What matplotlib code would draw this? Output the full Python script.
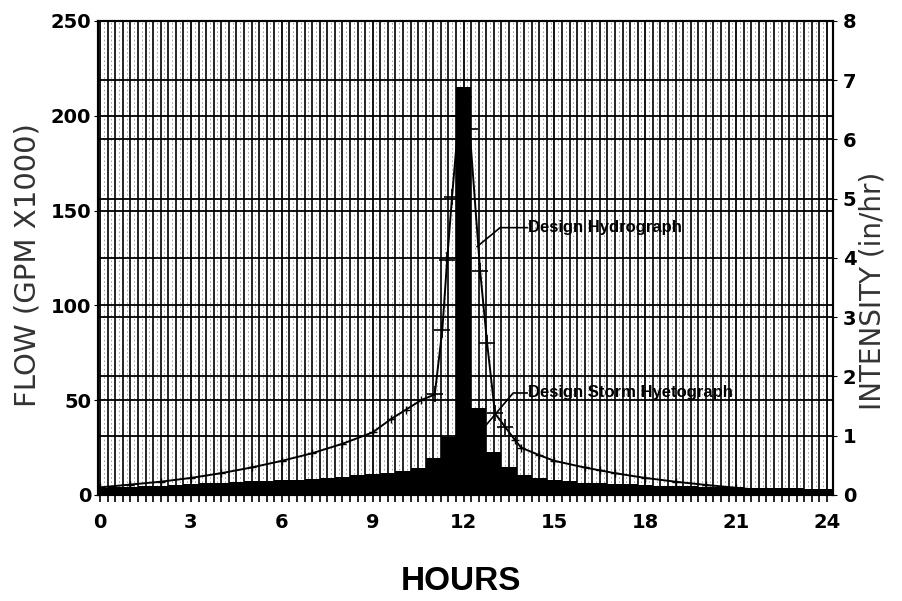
import matplotlib
matplotlib.use("Agg")
import matplotlib.pyplot as plt
import numpy as np

# Design hydrograph (flow, GPM x1000) vs hours
hydro_hours = [0, 1, 2, 3, 4, 5, 6, 7, 8, 9, 9.6, 10.1, 10.6, 11.05, 11.3,
               11.46, 11.62, 11.85, 12.0, 12.2, 12.55, 12.78, 13.04, 13.37,
               13.7, 13.9, 14.5, 15, 16, 16.5, 17, 18, 19, 20, 21, 22, 23, 24]
hydro_flow = [4, 5.5, 7, 9, 11.5, 14.5, 18, 22, 27, 33, 40, 45, 50, 53, 87,
              124, 157, 200, 210, 193, 118, 80, 43, 36,
              29, 25, 21, 18, 14.5, 13, 11.5, 9, 7, 5.3, 3.8, 2.3, 1.2, 0.3]

# Design storm hyetograph (intensity, in/hr), half-hour bars centred on these hours
storm_hours = [0, 0.5, 1, 1.5, 2, 2.5, 3, 3.5, 4, 4.5, 5, 5.5, 6, 6.5, 7, 7.5,
               8, 8.5, 9, 9.5, 10, 10.5, 11, 11.5, 12, 12.5, 13, 13.5, 14, 14.5,
               15, 15.5, 16, 16.5, 17, 17.5, 18, 18.5, 19, 19.5, 20, 20.5, 21,
               21.5, 22, 22.5, 23, 23.5, 24]
storm_intensity = [0.12, 0.13, 0.14, 0.15, 0.16, 0.17, 0.19, 0.20, 0.21, 0.22,
                   0.23, 0.24, 0.25, 0.26, 0.27, 0.29, 0.31, 0.33, 0.35, 0.37,
                   0.40, 0.45, 0.62, 0.98, 6.89, 1.47, 0.73, 0.47, 0.33, 0.28,
                   0.25, 0.23, 0.21, 0.20, 0.19, 0.18, 0.17, 0.16, 0.15, 0.15,
                   0.14, 0.13, 0.13, 0.12, 0.12, 0.11, 0.11, 0.10, 0.10]

hour_ticks = [0, 3, 6, 9, 12, 15, 18, 21, 24]
flow_ticks = [0, 50, 100, 150, 200, 250]
intensity_ticks = [0, 1, 2, 3, 4, 5, 6, 7, 8]

tick_font = dict(family="DejaVu Sans", weight="bold", size=14)

fig = plt.figure(figsize=(9.02, 6.01), dpi=100)
ax = fig.add_axes([0.1086, 0.1764, 0.8149, 0.7887])
ax2 = ax.twinx()

# hydrograph on the flow axis; big crosses near the peak, small on the tails
peak = [11.0 <= h <= 13.5 for h in hydro_hours]
ax.plot(hydro_hours, hydro_flow, color="black", lw=1.4, zorder=3)
ax.plot([h for h, p in zip(hydro_hours, peak) if p],
        [q for q, p in zip(hydro_flow, peak) if p],
        ls="none", marker="+", ms=12, mew=1.2, color="black", zorder=3)
ax.plot([h for h, p in zip(hydro_hours, peak) if not p],
        [q for q, p in zip(hydro_flow, peak) if not p],
        ls="none", marker="+", ms=6, mew=1.0, color="black", zorder=3)

ax.set_xlim(-0.07, 24.2)
ax.set_ylim(0, 250)
ax.set_xticks(hour_ticks)
ax.set_xticks(np.arange(0, 24.01, 0.25), minor=True)
ax.set_yticks(flow_ticks)
ax.grid(True, which="minor", axis="x", color="black", lw=1.2)
ax.grid(True, which="major", axis="both", color="black", lw=1.3)
# faint in-between lines seen on the scan
for xm in np.arange(0.125, 24.1, 0.25):
    ax.axvline(xm, color="0.6", lw=0.6, ls=(0, (2, 3)), zorder=0.5)
ax.set_axisbelow(True)

# hyetograph on the intensity axis
ax2.bar(storm_hours, storm_intensity, width=0.5, color="black", lw=0, zorder=2)
ax2.set_ylim(0, 8)
ax2.set_yticks(intensity_ticks)
ax2.grid(True, axis="y", color="black", lw=1.3)
ax2.set_axisbelow(True)
ax2.patch.set_visible(False)

for a in (ax, ax2):
    for s in a.spines.values():
        s.set_linewidth(1.5)

ax.tick_params(axis="x", which="both", direction="out", length=5, width=1.2,
               pad=8)
ax.tick_params(axis="y", length=3, pad=2)
ax2.tick_params(axis="y", length=3, pad=4)
for lab in ax.get_xticklabels() + ax.get_yticklabels() + ax2.get_yticklabels():
    lab.set_fontproperties(tick_font)

# call-outs
lead_hydro_x, lead_hydro_y = [12.45, 13.21, 14.1], [131, 141, 141]
lead_storm_x, lead_storm_y = [12.61, 13.64, 14.1], [34.3, 53.8, 53.8]
ax2.plot(lead_hydro_x, lead_hydro_y, color="black", lw=1.2,
         transform=ax.transData, zorder=5)
ax2.plot(lead_storm_x, lead_storm_y, color="black", lw=1.2,
         transform=ax.transData, zorder=5)
ax2.text(14.12, 141, "Design Hydrograph", transform=ax.transData,
         family="Liberation Sans", weight="bold", size=12, va="center",
         zorder=6)
ax2.text(14.12, 53.8, "Design Storm Hyetograph", transform=ax.transData,
         family="Liberation Sans", weight="bold", size=12, va="center",
         zorder=6)

fig.text(461 / 902, 1 - 582 / 601, "HOURS", family="Liberation Sans",
         weight="bold", size=24, ha="center", va="center")
fig.text(28 / 902, 1 - 265 / 601, "FLOW (GPM X1000)", family="DejaVu Sans",
         size=21, color="#333333", rotation=90, ha="center", va="center")
fig.text(873 / 902, 1 - 291 / 601, "INTENSITY (in/hr)", family="DejaVu Sans",
         size=20, color="#333333", rotation=90, ha="center", va="center")

fig.savefig("out.png", dpi=100)
